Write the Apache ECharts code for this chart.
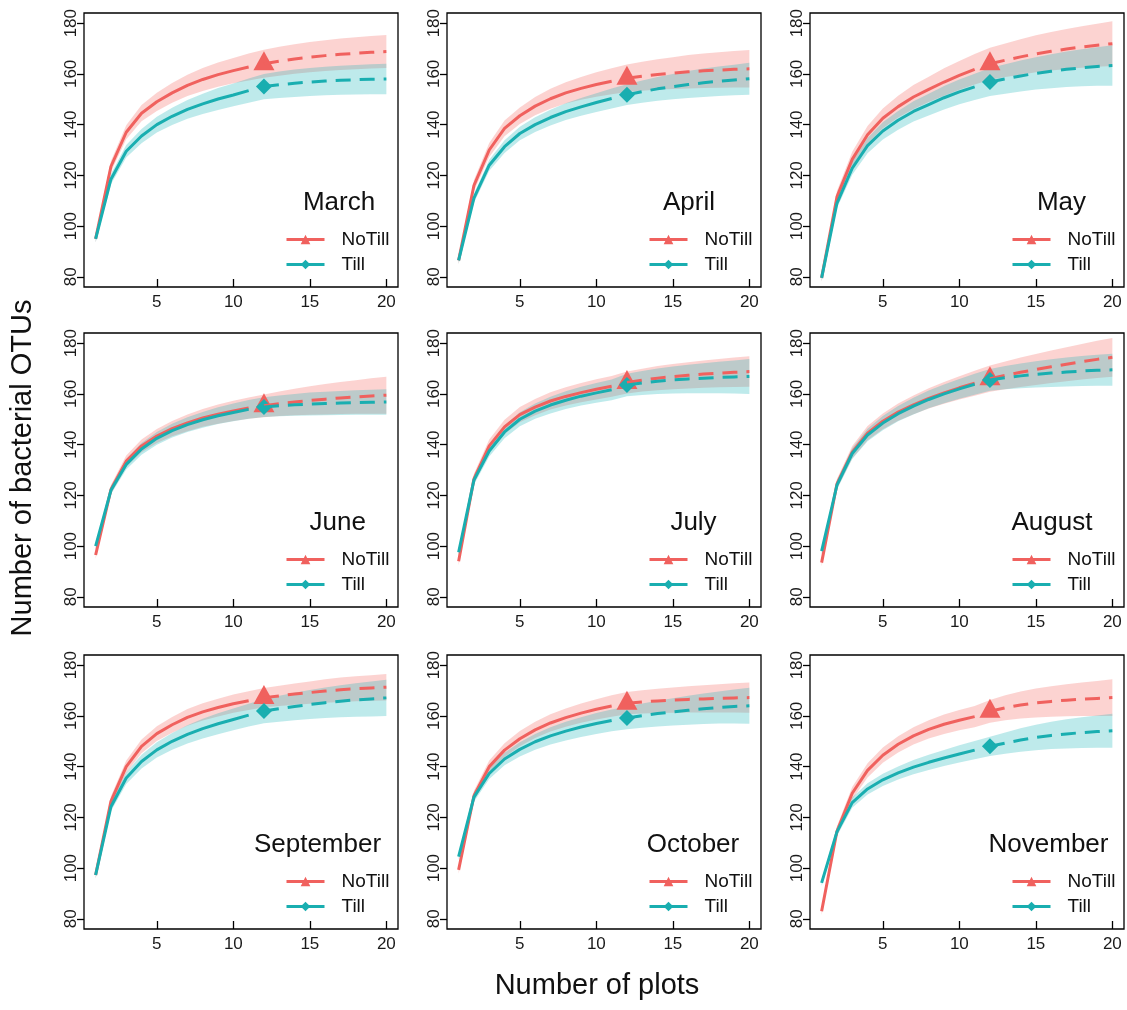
<!DOCTYPE html>
<html><head><meta charset="utf-8">
<script src="https://cdn.jsdelivr.net/npm/echarts@6/dist/echarts.min.js"></script>
<style>html,body{margin:0;padding:0;background:#fff}#c{width:1127px;height:1010px}</style>
</head><body><div id="c"></div>
<script>
// ---------------- DATA ----------------
const months = ['March','April','May','June','July','August','September','October','November'];
const plots = [1,2,3,4,5,6,7,8,9,10,11,12,13,14,15,16,17,18,19,20];
const observedPlots = 12;
const xTicks = [5,10,15,20];
const yTicks = [80,100,120,140,160,180];

const marNT   = [95,123.5,137,144.5,149,152.5,155.5,157.8,159.7,161.3,162.7,164,165,165.9,166.6,167.2,167.7,168.1,168.5,168.8];
const marNTlo = [93.5,121.3,134.2,141.3,145.4,148.6,151.3,153.3,154.9,156.3,157.4,158.5,159.3,160.1,160.6,161.1,161.5,161.8,162.1,162.3];
const marNThi = [96.5,125.7,139.8,147.7,152.6,156.4,159.7,162.3,164.5,166.3,168,169.5,170.7,171.7,172.6,173.3,173.9,174.4,174.9,175.3];
const marT    = [95,118.5,129.5,135.5,140,143.3,146,148.2,150.1,151.7,153.4,155,155.7,156.3,156.8,157.2,157.5,157.7,157.9,158];
const marTlo  = [93.5,116.5,127,132.7,136.9,139.9,142.3,144.2,145.8,147.2,148.6,150,150.5,150.9,151.3,151.6,151.8,151.9,152,152];
const marThi  = [96.5,120.5,132,138.3,143.1,146.7,149.7,152.2,154.4,156.2,158.2,160,160.9,161.7,162.3,162.8,163.2,163.5,163.8,164];

const aprNT   = [86.5,116,130,138.5,143.5,147.3,150.2,152.5,154.3,155.8,157.1,158.3,159.1,159.8,160.3,160.8,161.2,161.5,161.8,162];
const aprNTlo = [85,113.8,127.2,135.4,140.2,143.7,146.3,148.3,149.8,151,152,152.9,153.4,153.8,154,154.2,154.4,154.5,154.6,154.6];
const aprNThi = [88,118.2,132.8,141.6,146.8,150.9,154.1,156.7,158.8,160.6,162.2,163.7,164.8,165.8,166.6,167.4,168,168.5,169,169.4];
const aprT    = [86.5,111,124,131.3,136.5,140,142.8,145.1,147,148.7,150.3,151.8,153,154.1,155,155.8,156.5,157.1,157.6,158.1];
const aprTlo  = [85.2,109.2,121.8,128.8,133.8,137.1,139.7,141.8,143.5,145,146.4,147.7,148.6,149.4,150,150.5,150.9,151.3,151.6,151.8];
const aprThi  = [87.8,112.8,126.2,133.8,139.2,142.9,145.9,148.4,150.5,152.4,154.2,155.9,157.4,158.8,160,161.1,162.1,162.9,163.6,164.4];

const mayNT   = [79.6,111.5,126.3,136,142.5,147.1,150.9,153.9,156.8,159.4,161.8,164,165.4,166.7,167.9,168.9,169.8,170.6,171.3,171.9];
const mayNTlo = [78.1,109.2,123.3,132.5,138.6,142.8,146.2,148.9,151.4,153.7,155.8,157.7,158.8,159.7,160.6,161.3,161.9,162.4,162.8,163.1];
const mayNThi = [81.1,113.8,129.3,139.5,146.4,151.4,155.6,158.9,162.2,165.1,167.8,170.3,172,173.7,175.2,176.5,177.7,178.8,179.8,180.7];
const mayT    = [79.6,109,122.8,131.7,137.5,141.7,145.2,147.9,150.6,152.9,154.9,156.8,158,159.2,160.2,161,161.8,162.4,162.9,163.3];
const mayTlo  = [78.3,107,120.2,128.7,134.1,138,141.2,143.6,146,148,149.7,151.3,152.2,153.1,153.8,154.3,154.8,155.1,155.3,155.3];
const mayThi  = [80.9,111,125.4,134.7,140.9,145.4,149.2,152.2,155.2,157.8,160.1,162.3,163.8,165.3,166.6,167.7,168.8,169.7,170.5,171.3];

const junNT   = [96.5,122.3,133.5,139.5,143.4,146.3,148.6,150.5,152,153.3,154.4,155.3,156.1,156.8,157.4,157.9,158.4,158.8,159.2,159.5];
const junNTlo = [95,120.5,131.3,137,140.6,143.3,145.3,147,148.2,149.3,150.2,150.8,151.3,151.6,151.8,151.9,152.1,152.2,152.2,152.2];
const junNThi = [98,124.1,135.7,142,146.2,149.3,151.9,154,155.8,157.3,158.6,159.8,160.9,162,163,163.9,164.7,165.4,166.2,166.8];
const junT    = [100,122,132.2,138.3,142.5,145.5,147.9,149.8,151.4,152.7,153.9,154.8,155.3,155.7,156,156.2,156.4,156.6,156.7,156.8];
const junTlo  = [98.7,120.4,130.2,136,140,142.8,145,146.7,148.1,149.2,150.2,150.9,151.2,151.4,151.5,151.6,151.7,151.8,151.8,151.8];
const junThi  = [101.3,123.6,134.2,140.6,145,148.2,150.8,152.9,154.7,156.2,157.6,158.7,159.4,160,160.5,160.8,161.1,161.4,161.6,161.8];

const julNT   = [94,126.5,139.5,147,151.8,154.8,157.2,159,160.5,161.8,163,164.5,165.4,166.2,166.8,167.3,167.8,168.2,168.5,168.8];
const julNTlo = [92.5,124.5,137,144.2,148.8,151.6,153.8,155.4,156.7,157.8,158.9,160.2,160.9,161.4,161.8,162.1,162.4,162.6,162.7,162.8];
const julNThi = [95.5,128.5,142,149.8,154.8,158,160.6,162.6,164.3,165.8,167.1,168.8,169.9,171,171.8,172.5,173.2,173.8,174.3,174.8];
const julT    = [97.6,126,137.5,145,150,153.2,155.6,157.5,159.1,160.4,161.6,163.5,164.3,165,165.5,165.9,166.2,166.5,166.7,166.9];
const julTlo  = [96.3,124.2,135.3,142.5,147.2,150.2,152.3,154,155.4,156.5,157.5,159.1,159.6,160,160.2,160.3,160.3,160.3,160.2,160];
const julThi  = [98.9,127.8,139.7,147.5,152.8,156.2,158.9,161,162.8,164.3,165.7,167.9,169,170,170.8,171.5,172.1,172.7,173.2,173.8];

const augNT   = [93.5,124.5,137,144.5,149.2,152.8,155.7,158.2,160.4,162.4,164.2,166,167.3,168.5,169.6,170.7,171.7,172.7,173.6,174.4];
const augNTlo = [92,122.5,134.5,141.7,146.1,149.4,152,154.2,156.1,157.8,159.3,160.8,161.8,162.7,163.5,164.3,165,165.7,166.3,166.8];
const augNThi = [95,126.5,139.5,147.3,152.3,156.2,159.4,162.2,164.7,167,169.1,171.2,172.8,174.3,175.7,177.1,178.4,179.7,180.9,182];
const augT    = [98,124,136.5,143.8,148.5,152.2,155.2,157.8,160,162,163.8,165.5,166.4,167.1,167.7,168.2,168.6,169,169.3,169.5];
const augTlo  = [96.7,122.2,134.3,141.3,145.7,149.2,151.9,154.3,156.3,158.1,159.7,161.2,161.8,162.2,162.5,162.7,162.9,163.1,163.2,163.2];
const augThi  = [99.3,125.8,138.7,146.3,151.3,155.2,158.5,161.3,163.7,165.9,167.9,169.8,171,172,172.9,173.7,174.3,174.9,175.4,175.8];

const sepNT   = [97.3,126.3,140,148,153,156.5,159.4,161.6,163.3,164.8,166,167.2,167.9,168.6,169.2,169.8,170.3,170.7,171,171.3];
const sepNTlo = [95.8,124.3,137.6,145.3,150.1,153.4,156.1,158.2,159.8,161.2,162.3,163.4,163.9,164.4,164.8,165.2,165.5,165.8,166,166.1];
const sepNThi = [98.8,128.3,142.4,150.7,155.9,159.6,162.7,165,166.8,168.4,169.7,171,171.9,172.8,173.6,174.4,175.1,175.6,176,176.5];
const sepT    = [97.3,124.2,135.5,142,146.6,150,152.7,155,156.9,158.6,160.3,161.9,162.8,163.7,164.5,165.2,165.8,166.3,166.7,167.1];
const sepTlo  = [96,122.4,133.2,139.3,143.6,146.7,149.1,151.1,152.8,154.3,155.8,157.1,157.7,158.3,158.8,159.2,159.5,159.7,159.8,160];
const sepThi  = [98.6,126,137.8,144.7,149.6,153.3,156.3,158.9,161,162.9,164.8,166.7,167.9,169.1,170.2,171.2,172.1,172.9,173.6,174.2];

const octNT   = [99.3,128.5,140,146.5,151,154.5,157.2,159.3,161.1,162.6,163.9,165,165.5,165.9,166.2,166.5,166.7,166.9,167.1,167.2];
const octNTlo = [97.8,126.5,137.6,143.8,148,151.3,153.8,155.7,157.3,158.6,159.7,160.6,160.9,161.1,161.2,161.3,161.3,161.3,161.3,161.2];
const octNThi = [100.8,130.5,142.4,149.2,154,157.7,160.6,162.9,164.9,166.6,168.1,169.4,170.1,170.7,171.2,171.7,172.1,172.5,172.9,173.2];
const octT    = [104.5,128,137.3,143,146.8,149.8,152.1,154,155.6,157,158.2,159.2,160.1,160.9,161.6,162.2,162.8,163.3,163.7,164];
const octTlo  = [103.2,126.2,135.1,140.5,144,146.7,148.7,150.3,151.7,152.9,153.9,154.7,155.3,155.8,156.2,156.5,156.8,157,157,156.9];
const octThi  = [105.8,129.8,139.5,145.5,149.6,152.9,155.5,157.7,159.5,161.1,162.5,163.7,164.9,166,167,167.9,168.8,169.6,170.4,171.1];

const novNT   = [83,114.5,129.5,138.5,144.5,148.8,152.1,154.7,156.7,158.3,159.7,161.8,163.2,164.3,165.1,165.7,166.2,166.6,166.9,167.2];
const novNTlo = [81.5,112.5,127,135.7,141.5,145.6,148.7,151.1,152.9,154.3,155.5,157.3,158.3,159,159.4,159.7,159.9,160,160,160];
const novNThi = [84.5,116.5,132,141.3,147.5,152,155.5,158.3,160.5,162.3,163.9,166.3,168.1,169.6,170.8,171.7,172.5,173.2,173.8,174.4];
const novT    = [94.2,114.3,125.8,131.2,134.8,137.5,139.8,141.7,143.4,145,146.5,148,149.3,150.5,151.5,152.3,152.9,153.4,153.8,154.1];
const novTlo  = [92.9,112.6,123.8,129,132.4,134.9,137,138.7,140.2,141.6,142.9,144.2,145.1,145.9,146.5,146.9,147.1,147.3,147.4,147.4];
const novThi  = [95.5,116,127.8,133.4,137.2,140.1,142.6,144.7,146.6,148.4,150.1,151.8,153.5,155.1,156.5,157.7,158.7,159.5,160.2,160.8];

// ---------------- LAYOUT / STYLE ----------------
const panelData = [
  [marNT, marNTlo, marNThi, marT, marTlo, marThi],
  [aprNT, aprNTlo, aprNThi, aprT, aprTlo, aprThi],
  [mayNT, mayNTlo, mayNThi, mayT, mayTlo, mayThi],
  [junNT, junNTlo, junNThi, junT, junTlo, junThi],
  [julNT, julNTlo, julNThi, julT, julTlo, julThi],
  [augNT, augNTlo, augNThi, augT, augTlo, augThi],
  [sepNT, sepNTlo, sepNThi, sepT, sepTlo, sepThi],
  [octNT, octNTlo, octNThi, octT, octTlo, octThi],
  [novNT, novNTlo, novNThi, novT, novTlo, novThi]
];
const FONT = '"Liberation Sans", Arial, Helvetica, sans-serif';
const RED = '#F0615E', TEAL = '#19AEB0';
const RED_BAND = 'rgba(245,110,104,0.30)', TEAL_BAND = 'rgba(22,178,182,0.28)';
const colLeft = [84, 447, 810], rowTop = [13, 333, 655], W = 314, H = 274;
const titleDx = [-59, -72, -62.5, -60.3, -67.5, -72, -80.5, -68, -75.5];

const xFirst = plots[0], xLast = plots[plots.length - 1];
const xMin = xFirst - 0.04 * (xLast - xFirst), xMax = xLast + 0.04 * (xLast - xFirst);
const yFirst = yTicks[0], yLast = yTicks[yTicks.length - 1];
const yMin = yFirst - 0.04 * (yLast - yFirst), yMax = yLast + 0.04 * (yLast - yFirst);
const obsIdx = plots.indexOf(observedPlots);

const grids = [], xAxes = [], yAxes = [], series = [], legends = [], graphics = [];

function pairs(vals, from, to) {
  const out = [];
  for (let k = from; k <= to; k++) out.push([plots[k], vals[k]]);
  return out;
}

function addTreatment(i, name, mean, lo, hi, color, bandColor, symbol, markSize, markOffset) {
  const common = { xAxisIndex: i, yAxisIndex: i, silent: true, emphasis: { disabled: true }, animation: false };
  // confidence band: one polygon through the axis scales (upper edge forward, lower edge back)
  series.push(Object.assign({
    type: 'custom', name: name + ' band',
    data: plots.map((x, k) => [x, lo[k], hi[k]]),
    encode: { x: 0, y: [1, 2] },
    renderItem: function (params, api) {
      if (params.dataIndex !== 0) return null;
      const pts = [];
      for (let k = 0; k < plots.length; k++) pts.push(api.coord([plots[k], hi[k]]));
      for (let k = plots.length - 1; k >= 0; k--) pts.push(api.coord([plots[k], lo[k]]));
      return { type: 'polygon', shape: { points: pts }, style: { fill: bandColor, stroke: null } };
    }
  }, common));
  series.push(Object.assign({
    type: 'line', name: name, symbol: symbol, showSymbol: false,
    itemStyle: { color: color }, lineStyle: { color: color, width: 3 },
    data: pairs(mean, 0, obsIdx - 1)
  }, common));
  series.push(Object.assign({
    type: 'line', name: name + ' extrapolated', symbol: 'none',
    lineStyle: { color: color, width: 3, type: [15, 9] },
    data: pairs(mean, obsIdx, plots.length - 1)
  }, common));
  series.push(Object.assign({
    type: 'scatter', name: name + ' observed', symbol: symbol, symbolSize: markSize, symbolOffset: markOffset,
    itemStyle: { color: color, opacity: 1 }, data: pairs(mean, obsIdx, obsIdx)
  }, common));
}

months.forEach((m, i) => {
  const L = colLeft[i % 3], T = rowTop[Math.floor(i / 3)];
  grids.push({ left: L, top: T, width: W, height: H, show: true, borderColor: '#000', borderWidth: 1.3,
               backgroundColor: 'rgba(0,0,0,0)', outerBoundsMode: 'none', containLabel: false });
  xAxes.push({
    type: 'value', gridIndex: i, min: xMin, max: xMax,
    axisLine: { show: false }, splitLine: { show: false },
    axisTick: { show: true, inside: true, length: 8, customValues: xTicks, lineStyle: { color: '#000', width: 1.3 } },
    axisLabel: { show: true, customValues: xTicks, fontSize: 17, margin: 7, color: '#1a1a1a', fontFamily: FONT }
  });
  yAxes.push({
    type: 'value', gridIndex: i, min: yMin, max: yMax,
    axisLine: { show: false }, splitLine: { show: false },
    axisTick: { show: true, inside: false, length: 7, customValues: yTicks, lineStyle: { color: '#000', width: 1.3 } },
    axisLabel: { show: true, customValues: yTicks, rotate: 90, fontSize: 17, margin: 4, color: '#1a1a1a', fontFamily: FONT }
  });
  const d = panelData[i];
  addTreatment(i, 'NoTill', d[0], d[1], d[2], RED, RED_BAND, 'triangle', [21, 19], [0, -3]);
  addTreatment(i, 'Till', d[3], d[4], d[5], TEAL, TEAL_BAND, 'diamond', [16, 16], [0, 0]);
  legends.push({
    data: ['NoTill', 'Till'], orient: 'vertical', left: L + W - 113, top: T + 217,
    itemWidth: 38, itemHeight: 12, itemGap: 6, padding: 0, selectedMode: false,
    lineStyle: { width: 3 },
    textStyle: { fontSize: 19, fontFamily: FONT, color: '#111', padding: [0, 0, 0, 12] }
  });
  graphics.push({
    type: 'text', x: L + W + titleDx[i], y: T + 190, silent: true,
    style: { text: m, fontSize: 26, fontFamily: FONT, fill: '#111', textAlign: 'center', textVerticalAlign: 'middle' }
  });
});

graphics.push({
  type: 'text', x: 597, y: 986, silent: true,
  style: { text: 'Number of plots', fontSize: 29, fontFamily: FONT, fill: '#111', textAlign: 'center', textVerticalAlign: 'middle' }
});
graphics.push({
  type: 'text', x: 23, y: 468, rotation: Math.PI / 2, silent: true,
  style: { text: 'Number of bacterial OTUs', fontSize: 29, fontFamily: FONT, fill: '#111', textAlign: 'center', textVerticalAlign: 'middle' }
});

const chart = echarts.init(document.getElementById('c'), null, { renderer: 'canvas' });
chart.setOption({
  animation: false,
  backgroundColor: '#fff',
  grid: grids, xAxis: xAxes, yAxis: yAxes, series: series, legend: legends, graphic: graphics,
  tooltip: { show: false }
});
</script></body></html>
